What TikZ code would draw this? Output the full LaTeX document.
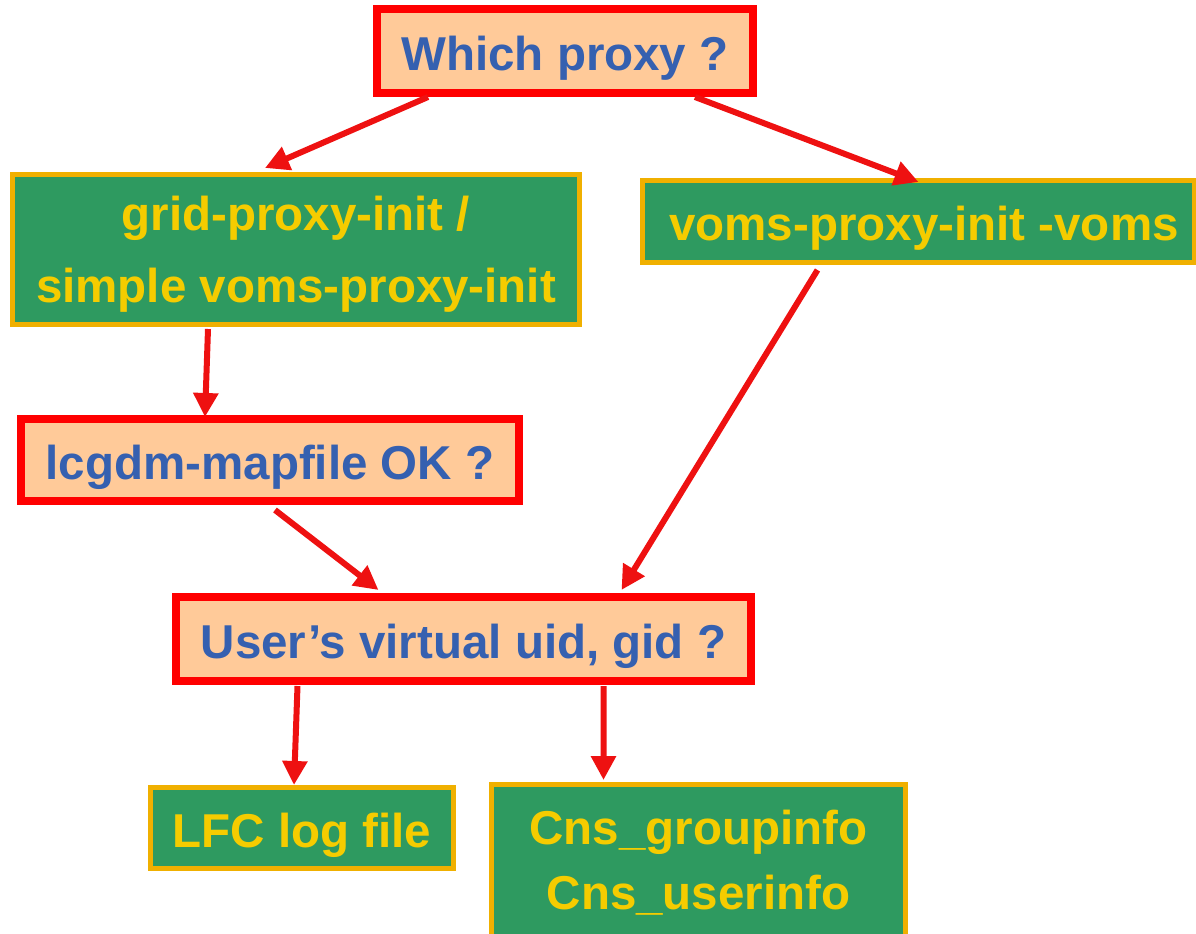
\documentclass[tikz,border=0pt]{standalone}
\usepackage{fontspec}
\setmainfont{Liberation Sans}
\usetikzlibrary{arrows.meta}
\definecolor{peach}{HTML}{FFCA99}
\definecolor{boxred}{HTML}{FF0000}
\definecolor{arrred}{HTML}{EE1111}
\definecolor{grn}{HTML}{2E9A60}
\definecolor{gold}{HTML}{F0B000}
\definecolor{yel}{HTML}{F5CC00}
\definecolor{blu}{HTML}{3560B0}
\tikzset{
  qbox/.style={draw=boxred, line width=8bp, fill=peach, text=blu, inner sep=0pt,
    font=\fontsize{47.5bp}{72bp}\selectfont\bfseries, align=center},
  abox/.style={draw=gold, line width=5bp, fill=grn, text=yel, inner sep=0pt,
    font=\fontsize{47.5bp}{72bp}\selectfont\bfseries, align=center},
  oneline/.style={text height=38bp, text depth=0bp},
  arr/.style={draw=arrred, line width=6bp, -{Triangle[length=24bp,width=24bp]}}
}
\begin{document}
\begin{tikzpicture}[x=1bp,y=-1bp]
\useasboundingbox (0,0) rectangle (1196,934);
\node[qbox, oneline, minimum width=376bp, minimum height=84bp] (which) at (565,51) {Which proxy ?};
\node[abox, text depth=0bp, minimum width=567bp, minimum height=150bp] (grid) at (296,249.5) {grid-proxy-init /\\simple voms-proxy-init};
\node[abox, oneline, minimum width=552bp, minimum height=82bp] (voms) at (918.5,221.5) {\hspace*{11bp}voms-proxy-init -voms};
\node[qbox, oneline, minimum width=498bp, minimum height=82bp] (lcgdm) at (270,460) {lcgdm-mapfile OK ?};
\node[qbox, oneline, minimum width=575bp, minimum height=84bp] (user) at (463.5,639) {User’s virtual uid, gid ?};
\node[abox, oneline, minimum width=303bp, minimum height=81bp] (lfc) at (302,828) {LFC log file};
\node[abox, text depth=5bp, minimum width=414bp, minimum height=155bp, font=\fontsize{47.5bp}{65bp}\selectfont\bfseries] (cns) at (698.5,862) {Cns\_groupinfo\\Cns\_userinfo};
\draw[arr] ([xshift=-137bp]which.south) -- ([xshift=-31bp,yshift=4bp]grid.north);
\draw[arr] ([xshift=130bp]which.south) -- ([yshift=-4bp]voms.north);
\draw[arr] ([xshift=-88bp,yshift=-2bp]grid.south) -- ([xshift=-65bp,yshift=-2bp]lcgdm.north);
\draw[arr] ([xshift=-101bp,yshift=-5bp]voms.south) -- ([xshift=158bp,yshift=3bp]user.north);
\draw[arr] ([xshift=5bp,yshift=-5bp]lcgdm.south) -- ([xshift=-85bp,yshift=3bp]user.north);
\draw[arr] ([xshift=-166bp,yshift=-1bp]user.south) -- ([xshift=-8bp]lfc.north);
\draw[arr] ([xshift=140bp,yshift=-1bp]user.south) -- ([xshift=-95bp,yshift=2bp]cns.north);
\end{tikzpicture}
\end{document}
